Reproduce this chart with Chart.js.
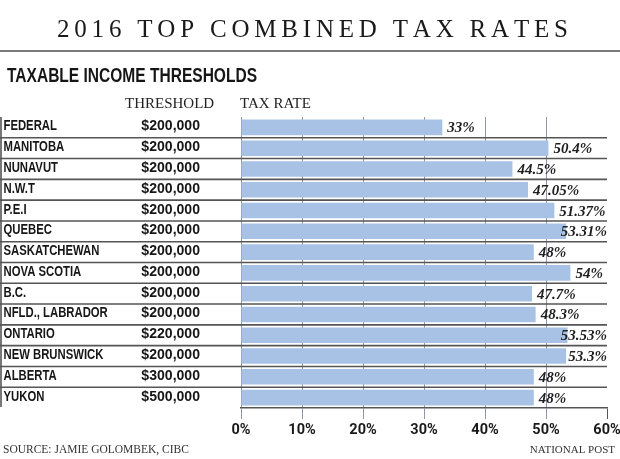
<!DOCTYPE html>
<html>
<head>
<meta charset="utf-8">
<script src="https://cdn.jsdelivr.net/npm/chart.js@4.4.1/dist/chart.umd.min.js"></script>
<style>
  html, body { margin: 0; padding: 0; background: #fff; }
  canvas { display: block; }
</style>
</head>
<body>
<canvas id="taxChart" width="620" height="459"></canvas>
<script>
// Datos del gráfico
const provinces = ['FEDERAL', 'MANITOBA', 'NUNAVUT', 'N.W.T', 'P.E.I', 'QUEBEC', 'SASKATCHEWAN',
    'NOVA SCOTIA', 'B.C.', 'NFLD., LABRADOR', 'ONTARIO', 'NEW BRUNSWICK', 'ALBERTA', 'YUKON'];
const thresholds = ['$200,000', '$200,000', '$200,000', '$200,000', '$200,000', '$200,000', '$200,000',
    '$200,000', '$200,000', '$200,000', '$220,000', '$200,000', '$300,000', '$500,000'];
const rates = [33, 50.4, 44.5, 47.05, 51.37, 53.31, 48, 54, 47.7, 48.3, 53.53, 53.3, 48, 48];
const tickValues = [0, 10, 20, 30, 40, 50, 60];

const titleText = '2016 TOP COMBINED TAX RATES';
const subtitleText = 'TAXABLE INCOME THRESHOLDS';

const ink = '#161616';
const ruleColor = '#555';

// texto comprimido horizontalmente (imitando una fuente condensada)
function condensed(ctx, text, x, y, font, sx, align) {
    ctx.save();
    ctx.font = font;
    ctx.textAlign = align || 'left';
    ctx.translate(x, y);
    ctx.scale(sx, 1);
    ctx.fillText(text, 0, 0);
    ctx.restore();
}

// texto con espaciado entre letras, centrado en cx y ocupando "width"
function spaced(ctx, text, cx, y, font, width) {
    ctx.save();
    ctx.font = font;
    ctx.textAlign = 'left';
    const chars = [...text];
    const ws = chars.map(c => ctx.measureText(c).width);
    const sum = ws.reduce((a, b) => a + b, 0);
    const gap = (width - sum) / (chars.length - 1);
    let x = cx - width / 2;
    chars.forEach((c, i) => {
        ctx.fillText(c, x, y);
        x += ws[i] + gap;
    });
    ctx.restore();
}

const framePlugin = {
    id: 'frame',
    beforeDraw(chart) {
        const ctx = chart.ctx;
        ctx.save();
        ctx.fillStyle = '#fff';
        ctx.fillRect(0, 0, chart.width, chart.height);

        ctx.fillStyle = '#1a1a1a';
        ctx.textBaseline = 'alphabetic';
        spaced(ctx, titleText, 312.5, 36.5, '25px "Liberation Serif"', 511);

        ctx.fillStyle = '#7a7a7a';
        ctx.fillRect(0, 50, 620, 2);

        // subtítulo
        ctx.fillStyle = ink;
        ctx.font = 'bold 21px "Liberation Sans"';
        const sw = ctx.measureText(subtitleText).width;
        condensed(ctx, subtitleText, 7, 81.5, 'bold 21px "Liberation Sans"', 250 / sw);

        // cabeceras de columnas
        ctx.fillStyle = '#222';
        ctx.font = '15px "Liberation Serif"';
        ctx.fillText('THRESHOLD', 125, 107.5);
        ctx.fillText('TAX RATE', 240, 107.5);

        // fuente
        ctx.fillStyle = '#333';
        ctx.font = '11.5px "Liberation Serif"';
        ctx.textAlign = 'left';
        ctx.fillText('SOURCE: JAMIE GOLOMBEK, CIBC', 3, 452.5);
        ctx.font = '11px "Liberation Serif"';
        ctx.textAlign = 'right';
        ctx.fillText('NATIONAL POST', 615, 453);
        ctx.restore();
    },
    afterDraw(chart) {
        const ctx = chart.ctx;
        const y = chart.scales.y;
        const area = chart.chartArea;
        ctx.save();

        // líneas separadoras entre filas
        ctx.strokeStyle = ruleColor;
        ctx.lineWidth = 1.6;
        for (let i = 0; i < provinces.length - 1; i++) {
            const yy = (y.getPixelForValue(i) + y.getPixelForValue(i + 1)) / 2;
            ctx.beginPath();
            ctx.moveTo(0, yy);
            ctx.lineTo(area.right, yy);
            ctx.stroke();
        }
        ctx.beginPath();
        ctx.moveTo(1, area.top);
        ctx.lineTo(1, area.bottom - 1);
        ctx.stroke();

        // nombres y umbrales
        ctx.fillStyle = ink;
        ctx.textBaseline = 'alphabetic';
        provinces.forEach((name, i) => {
            const cy = y.getPixelForValue(i) + 3;
            condensed(ctx, name, 3.5, cy, 'bold 14.5px "Liberation Sans"', 0.78);
            condensed(ctx, thresholds[i], 200, cy, 'bold 14.5px "Liberation Sans"', 0.97, 'right');
        });

        // etiquetas de valores
        const meta = chart.getDatasetMeta(0);
        ctx.font = 'italic bold 15px "Liberation Serif"';
        ctx.textAlign = 'left';
        ctx.fillStyle = '#1e1e1e';
        meta.data.forEach((bar, i) => {
            const label = rates[i] + '%';
            const w = ctx.measureText(label).width;
            const x = Math.min(bar.x + 5, area.right - w);
            ctx.fillText(label, x, bar.y + 5);
        });
        ctx.restore();
    }
};

const ctx = document.getElementById('taxChart').getContext('2d');
const taxChart = new Chart(ctx, {
    type: 'bar',
    data: {
        labels: provinces,
        datasets: [{
            data: rates,
            backgroundColor: '#a8c2e6',
            borderWidth: 0,
            barPercentage: 0.75,
            categoryPercentage: 1
        }]
    },
    options: {
        indexAxis: 'y',
        responsive: false,
        animation: false,
        devicePixelRatio: 1,
        layout: {
            padding: { left: 241, right: 13, top: 117, bottom: 11 }
        },
        plugins: {
            legend: { display: false },
            tooltip: { enabled: false }
        },
        scales: {
            x: {
                min: 0,
                max: 60,
                z: 1,
                afterBuildTicks: scale => {
                    scale.ticks = tickValues.map(v => ({ value: v }));
                },
                afterFit: scale => {
                    scale.height = 40;
                    scale.paddingLeft = 0;
                    scale.paddingRight = 0;
                },
                grid: {
                    color: c => (c.tick && c.tick.value === 60) ? 'rgba(0,0,0,0)' : '#8c98a8',
                    tickColor: c => (c.tick && c.tick.value === 60) ? ruleColor : '#8c98a8',
                    tickLength: 11,
                    lineWidth: 1
                },
                border: { display: true, color: ruleColor, width: 1.6 },
                ticks: {
                    padding: 3,
                    color: '#1a1a1a',
                    font: { family: 'Roboto', size: 14.5, weight: 'bold' },
                    callback: v => v + '%'
                }
            },
            y: {
                display: false,
                offset: true
            }
        }
    },
    plugins: [framePlugin]
});
</script>
</body>
</html>
